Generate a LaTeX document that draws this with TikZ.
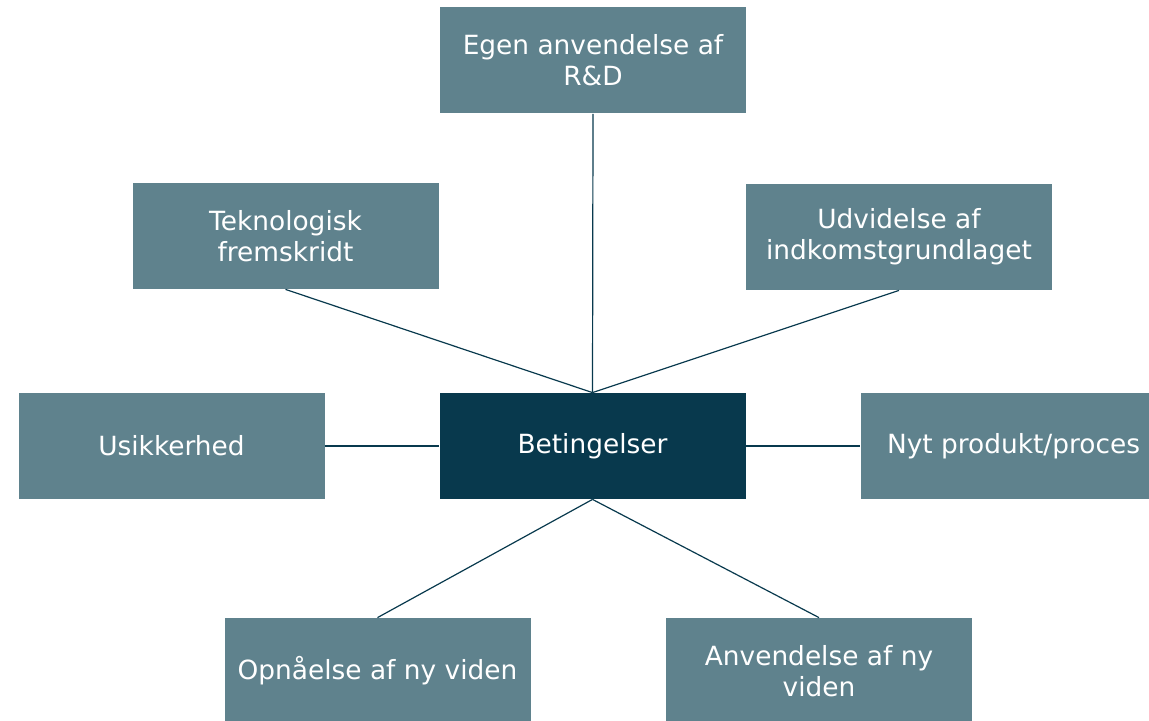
\documentclass[tikz,border=0pt]{standalone}
\usepackage{fontspec}
\setmainfont{DejaVu Sans}
\usepackage{xcolor}
\definecolor{boxgrey}{HTML}{5F828D}
\definecolor{boxdark}{HTML}{08394D}
\tikzset{
  box/.style={rectangle,fill=boxgrey,text=white,minimum width=153pt,minimum height=53pt,
    align=center,inner sep=0pt,font=\fontsize{13.2}{15.5}\selectfont},
  centrebox/.style={box,fill=boxdark},
  link/.style={draw=boxdark,line width=0.6pt}
}
\begin{document}
\begin{tikzpicture}[x=0.5pt,y=-0.5pt]
          \useasboundingbox (0,0) rectangle (1149,721);
          \node[centrebox] (bet) at (592.5,446) {Betingelser};
          \node[box] (rd) at (593,60.5) {Egen anvendelse af\\R\&D};
          \node[box] (tek) at (285.5,236) {Teknologisk\\fremskridt};
          \node[box] (udv) at (899,237) {Udvidelse af\\indkomstgrundlaget};
          \node[box] (usi) at (171.5,446) {Usikkerhed};
          \node[box] (nyt) at (1013.5,446) {Nyt produkt/proces};
          \node[box] (opn) at (377.5,671) {Opnåelse af ny viden};
          \node[box] (anv) at (819,671) {Anvendelse af ny\\viden};
          % spokes
          \draw[link] (rd.south) -- (bet.north);
          \draw[link] (tek.south) -- (bet.north);
          \draw[link] (udv.south) -- (bet.north);
          \draw[link] (usi.east) -- (bet.west);
          \draw[link] (bet.east) -- (nyt.west);
          \draw[link] (bet.south) -- (opn.north);
          \draw[link] (bet.south) -- (anv.north);
        \end{tikzpicture}
\end{document}
